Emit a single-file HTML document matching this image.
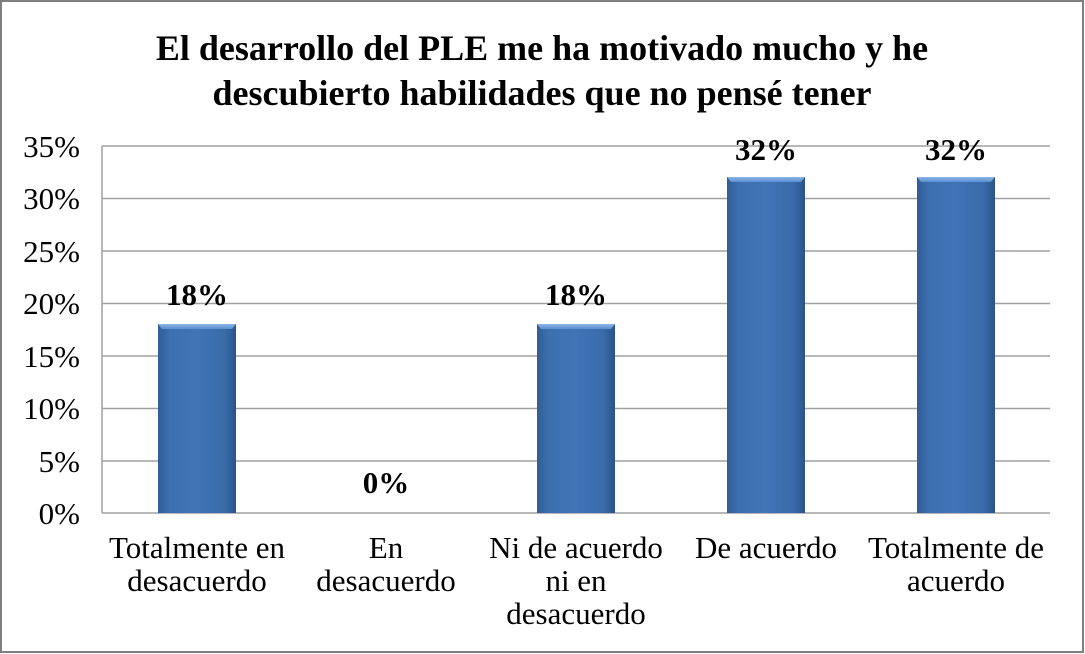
<!DOCTYPE html>
<html><head><meta charset="utf-8"><style>
html,body{margin:0;padding:0;background:#fff;}
svg{display:block;font-family:"Liberation Serif",serif;}
</style></head><body>
<svg width="1085" height="654" viewBox="0 0 1085 654" xmlns="http://www.w3.org/2000/svg">
<defs>
<linearGradient id="g" x1="0" x2="1" y1="0" y2="0">
<stop offset="0" stop-color="#2f5d95"/>
<stop offset="0.15" stop-color="#3d70b0"/>
<stop offset="0.5" stop-color="#3f74b6"/>
<stop offset="0.85" stop-color="#3a6bab"/>
<stop offset="1" stop-color="#2a548a"/>
</linearGradient>
<linearGradient id="t" x1="0" x2="0" y1="0" y2="1">
<stop offset="0" stop-color="#8db4e6"/>
<stop offset="1" stop-color="#5a8fd2"/>
</linearGradient>
</defs>
<rect x="1" y="1" width="1082" height="651" fill="#fff" stroke="#7f7f7f" stroke-width="2"/>
<text x="542" y="60" text-anchor="middle" font-size="36" font-weight="bold">El desarrollo del PLE me ha motivado mucho y he</text>
<text x="542" y="105" text-anchor="middle" font-size="36" font-weight="bold">descubierto habilidades que no pensé tener</text>
<g stroke="#a0a0a0" stroke-width="1.5">
<line x1="102" y1="146" x2="1050" y2="146"/>
<line x1="102" y1="198.5" x2="1050" y2="198.5"/>
<line x1="102" y1="251" x2="1050" y2="251"/>
<line x1="102" y1="303.5" x2="1050" y2="303.5"/>
<line x1="102" y1="356" x2="1050" y2="356"/>
<line x1="102" y1="408.5" x2="1050" y2="408.5"/>
<line x1="102" y1="461" x2="1050" y2="461"/>
<line x1="102" y1="513" x2="1050" y2="513"/>
<line x1="102" y1="146" x2="102" y2="513"/>
</g>
<g font-size="31" text-anchor="end">
<text x="80" y="157">35%</text>
<text x="80" y="209">30%</text>
<text x="80" y="262">25%</text>
<text x="80" y="314">20%</text>
<text x="80" y="367">15%</text>
<text x="80" y="419">10%</text>
<text x="80" y="472">5%</text>
<text x="80" y="524">0%</text>
</g>
<g>
<rect x="158" y="324" width="78" height="189" fill="url(#g)"/>
<polygon points="158,324 236,324 232,329 162,329" fill="url(#t)"/>
<rect x="537" y="324" width="78" height="189" fill="url(#g)"/>
<polygon points="537,324 615,324 611,329 541,329" fill="url(#t)"/>
<rect x="727" y="177" width="78" height="336" fill="url(#g)"/>
<polygon points="727,177 805,177 801,182 731,182" fill="url(#t)"/>
<rect x="917" y="177" width="78" height="336" fill="url(#g)"/>
<polygon points="917,177 995,177 991,182 921,182" fill="url(#t)"/>
</g>
<g font-size="31" font-weight="bold" text-anchor="middle">
<text x="197" y="305">18%</text>
<text x="386" y="493">0%</text>
<text x="576" y="305">18%</text>
<text x="766" y="160">32%</text>
<text x="956" y="160">32%</text>
</g>
<g font-size="31" text-anchor="middle">
<text x="197" y="558">Totalmente en</text>
<text x="197" y="591">desacuerdo</text>
<text x="386" y="558">En</text>
<text x="386" y="591">desacuerdo</text>
<text x="576" y="558">Ni de acuerdo</text>
<text x="576" y="591">ni en</text>
<text x="576" y="624">desacuerdo</text>
<text x="766" y="558">De acuerdo</text>
<text x="956" y="558">Totalmente de</text>
<text x="956" y="591">acuerdo</text>
</g>
</svg>
</body></html>
